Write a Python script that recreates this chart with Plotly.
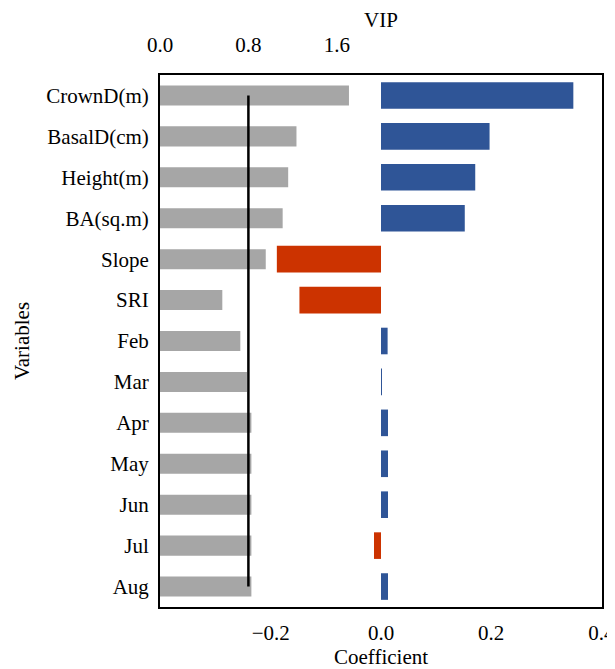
import plotly.graph_objects as go

variables = ["CrownD(m)", "BasalD(cm)", "Height(m)", "BA(sq.m)", "Slope", "SRI",
             "Feb", "Mar", "Apr", "May", "Jun", "Jul", "Aug"]
vip = [1.71, 1.235, 1.16, 1.11, 0.957, 0.564, 0.727, 0.787, 0.827, 0.827, 0.827, 0.827, 0.827]
coefficient = [0.349, 0.197, 0.171, 0.152, -0.189, -0.148, 0.012, 0.001, 0.0127, 0.0127, 0.0127, -0.0127, 0.0127]
vip_threshold = 0.8
vip_ticks = [0.0, 0.8, 1.6]
coef_ticks = [-0.2, 0.0, 0.2, 0.4]

BLUE = "#2F5597"
RED = "#CC3300"
GRAY = "#A6A6A6"
FONT = "Liberation Serif, Times New Roman, serif"

coef_colors = [BLUE if c >= 0 else RED for c in coefficient]

fig = go.Figure()
fig.add_trace(go.Bar(
    y=variables, x=vip, orientation="h", xaxis="x2", yaxis="y",
    marker=dict(color=GRAY, line=dict(width=0)), width=0.49, showlegend=False,
))
fig.add_trace(go.Scatter(
    x=[vip_threshold, vip_threshold], y=[variables[0], variables[-1]],
    xaxis="x2", yaxis="y", mode="lines",
    line=dict(color="black", width=2.5), showlegend=False,
))
fig.add_trace(go.Bar(
    y=variables, x=coefficient, orientation="h", xaxis="x", yaxis="y",
    marker=dict(color=coef_colors, line=dict(width=0)), width=0.65, showlegend=False,
))

fig.update_layout(
    width=607, height=661,
    margin=dict(l=152, r=13, t=67, b=62),
    paper_bgcolor="white", plot_bgcolor="white",
    font=dict(family=FONT, size=21, color="black"),
    barmode="overlay",
    xaxis=dict(
        range=[-0.401, 0.401], tickvals=coef_ticks,
        ticktext=["\u22120.2", "0.0", "0.2", "0.4"],
        ticklabeloverflow="allow",
        showgrid=False, zeroline=False, automargin=False,
        showline=True, mirror=True, linecolor="black", linewidth=2,
        ticks="", ticklabelstandoff=6,
        title=dict(text="Coefficient", standoff=10, font=dict(size=21)),
    ),
    xaxis2=dict(
        range=[0, 4.0], tickvals=vip_ticks, ticktext=["0.0", "0.8", "1.6"],
        overlaying="x", side="top", anchor="y", automargin=False,
        showgrid=False, zeroline=False, showline=False,
        ticks="", ticklabelstandoff=18,
        title=dict(text="VIP", standoff=0, font=dict(size=21)),
    ),
    yaxis=dict(
        categoryorder="array", categoryarray=variables,
        range=[len(variables) - 0.5, -0.5],
        showgrid=False, zeroline=False, automargin=False,
        showline=True, mirror=True, linecolor="black", linewidth=2,
        ticks="", ticklabelstandoff=5,
        title=dict(text="Variables", standoff=11, font=dict(size=21)),
    ),
)

fig.write_html("out.html")
